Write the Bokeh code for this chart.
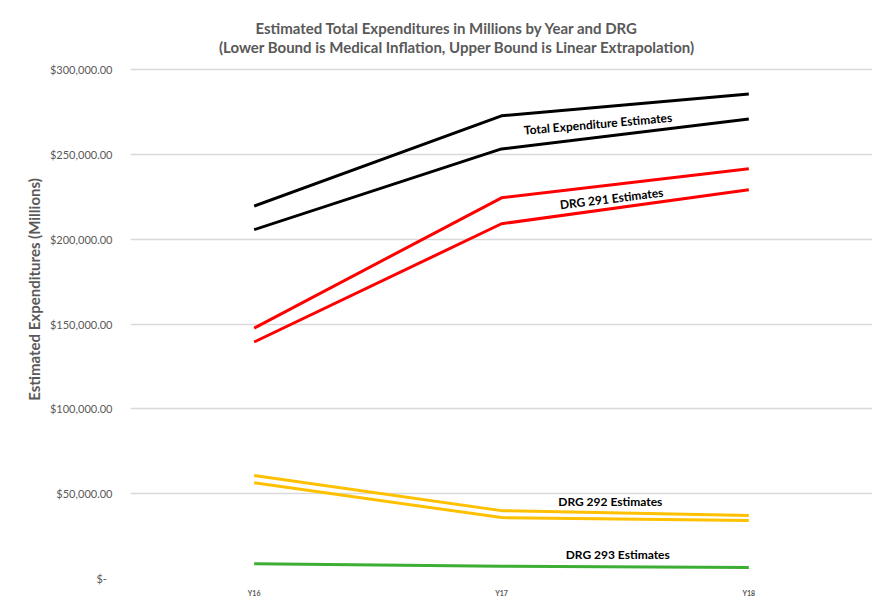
import math

from bokeh.plotting import figure
from bokeh.models import Range1d, FixedTicker, CustomJSTickFormatter, Label
from bokeh.embed import file_html
from bokeh.resources import INLINE

# Fiscal years on the x axis
years = ["Y16", "Y17", "Y18"]

# Estimated expenditures in millions (upper bound = linear extrapolation,
# lower bound = medical inflation)
total_upper = [219500, 272700, 285600]
total_lower = [205600, 253200, 270900]
drg291_upper = [147600, 224400, 241500]
drg291_lower = [139400, 209100, 229100]
drg292_upper = [60700, 40000, 37100]
drg292_lower = [56500, 35900, 34200]
drg293 = [8700, 7200, 6500]

y_ticks = [0, 50000, 100000, 150000, 200000, 250000, 300000]

title_lines = [
    "Estimated Total Expenditures in Millions by Year and DRG",
    "(Lower Bound is Medical Inflation, Upper Bound is Linear Extrapolation)",
]

FONT = "Lato"
GREY = "#595959"

xs = list(range(len(years)))

# the value range runs past the top tick so the title sits inside the frame
p = figure(width=876, height=599, output_backend="svg", toolbar_location=None,
           x_range=Range1d(-0.5, len(years) - 0.5), y_range=Range1d(0, 340700),
           min_border_left=130, min_border_right=4, min_border_top=0,
           min_border_bottom=21)
p.title.visible = False
p.outline_line_color = None
p.background_fill_color = "white"
p.border_fill_color = "white"

# two title lines
for txt, tx, ty in [(title_lines[0], 0.78, 324200), (title_lines[1], 0.82, 313000)]:
    p.add_layout(Label(x=tx, y=ty, text=txt, text_align="center",
                       text_baseline="middle", text_font=FONT,
                       text_font_size="15px", text_font_style="bold",
                       text_color=GREY))

# grid
p.xgrid.visible = False
p.ygrid.ticker = FixedTicker(ticks=y_ticks)
p.ygrid.grid_line_color = "#d9d9d9"
p.ygrid.grid_line_width = 1.5

# y axis
p.yaxis.ticker = FixedTicker(ticks=y_ticks)
p.yaxis.formatter = CustomJSTickFormatter(code="""
    if (tick == 0) { return "$-  "; }
    return "$" + tick.toLocaleString("en-US", {minimumFractionDigits: 2, maximumFractionDigits: 2});
""")
p.yaxis.axis_line_color = None
p.yaxis.major_tick_line_color = None
p.yaxis.minor_tick_line_color = None
p.yaxis.major_label_standoff = 12
p.yaxis.major_label_text_font = FONT
p.yaxis.major_label_text_font_size = "11px"
p.yaxis.major_label_text_color = GREY
p.yaxis.axis_label = "Estimated Expenditures (Millions)"
p.yaxis.axis_label_text_font = FONT
p.yaxis.axis_label_text_font_size = "15px"
p.yaxis.axis_label_text_font_style = "bold"
p.yaxis.axis_label_text_color = GREY
p.yaxis.axis_label_standoff = 4

# x axis
p.xaxis.ticker = FixedTicker(ticks=xs)
p.xaxis.major_label_overrides = {i: y for i, y in enumerate(years)}
p.xaxis.axis_line_color = None
p.xaxis.major_tick_line_color = None
p.xaxis.minor_tick_line_color = None
p.xaxis.major_label_standoff = 4
p.xaxis.major_label_text_font = FONT
p.xaxis.major_label_text_font_size = "7px"
p.xaxis.major_label_text_font_style = "bold"
p.xaxis.major_label_text_color = GREY

# series
series = [
    (total_upper, "black"), (total_lower, "black"),
    (drg291_upper, "#ff0000"), (drg291_lower, "#ff0000"),
    (drg292_upper, "#ffc000"), (drg292_lower, "#ffc000"),
    (drg293, "#3cae34"),
]
for vals, col in series:
    p.line(xs, vals, line_color=col, line_width=3)

# in-chart series labels
notes = [
    ("Total Expenditure Estimates", 1.39, 268000, 5.0),
    ("DRG 291 Estimates", 1.445, 224000, 7.0),
    ("DRG 292 Estimates", 1.44, 45300, 0.0),
    ("DRG 293 Estimates", 1.47, 14100, 0.0),
]
for txt, x, y, ang in notes:
    p.add_layout(Label(x=x, y=y, text=txt, angle=math.radians(ang),
                       text_align="center", text_baseline="middle",
                       text_font=FONT, text_font_size="12px",
                       text_font_style="bold", text_color="black"))

open("out.html", "w").write(file_html(p, INLINE))
